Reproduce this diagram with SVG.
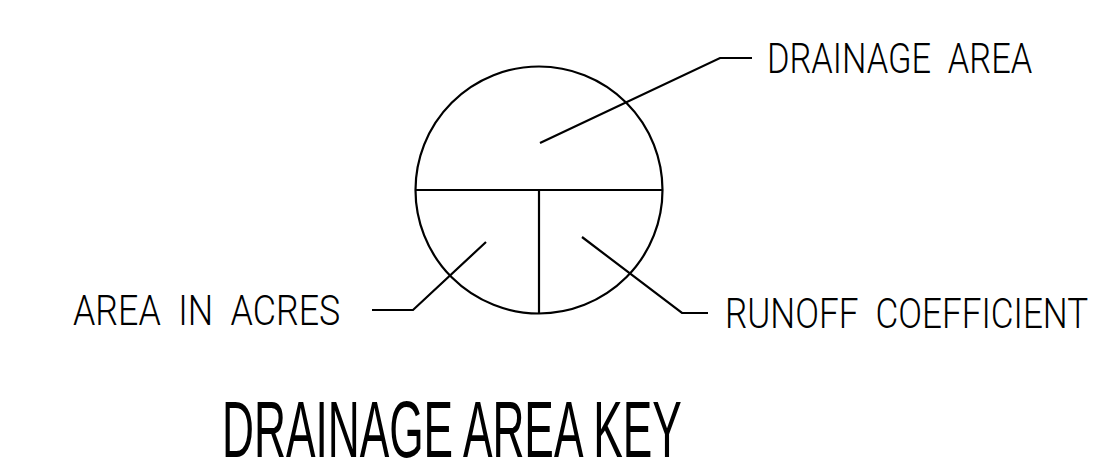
<svg xmlns="http://www.w3.org/2000/svg" width="1106" height="460" viewBox="0 0 1106 460">
  <style>
    .ln { fill: none; stroke: #000; stroke-width: 2.2; stroke-linecap: butt; stroke-linejoin: miter; }
    .lbl { font-family: Roboto, "Liberation Sans", Arial, sans-serif; font-weight: 300; font-size: 42px; fill: #000; white-space: pre; }
    .title { font-family: "Liberation Sans", Arial, sans-serif; font-size: 79px; fill: #000; }
  </style>
  <rect width="1106" height="460" fill="#fff"/>

  <!-- key symbol: circle split into upper half and two lower quarters -->
  <g id="key-symbol">
    <circle class="ln" cx="539" cy="190" r="123.5"/>
    <line class="ln" x1="415.5" y1="190" x2="662.5" y2="190"/>
    <line class="ln" x1="539" y1="190" x2="539" y2="313.5"/>
  </g>

  <!-- leaders -->
  <g id="connectors">
    <polyline class="ln" points="540,143 720,58 752,58"/>
    <polyline class="ln" points="486,242 413,310 372,310"/>
    <polyline class="ln" points="582,237 682,313 708,313"/>
  </g>

  <!-- labels are narrowed horizontally to the lettering width -->
  <g id="label-drainage-area">
    <text class="lbl" transform="translate(767,73) scale(0.78,1)" textLength="340" lengthAdjust="spacingAndGlyphs">DRAINAGE  AREA</text>
  </g>
  <g id="label-area-in-acres">
    <text class="lbl" transform="translate(73,325) scale(0.8,1)" textLength="334" lengthAdjust="spacingAndGlyphs">AREA  IN  ACRES</text>
  </g>
  <g id="label-runoff-coefficient">
    <text class="lbl" transform="translate(725,328) scale(0.8,1)" textLength="454" lengthAdjust="spacingAndGlyphs">RUNOFF  COEFFICIENT</text>
  </g>

  <g id="title">
    <text class="title" transform="translate(222,457) scale(0.56,1)" textLength="821" lengthAdjust="spacingAndGlyphs">DRAINAGE AREA KEY</text>
  </g>
</svg>
